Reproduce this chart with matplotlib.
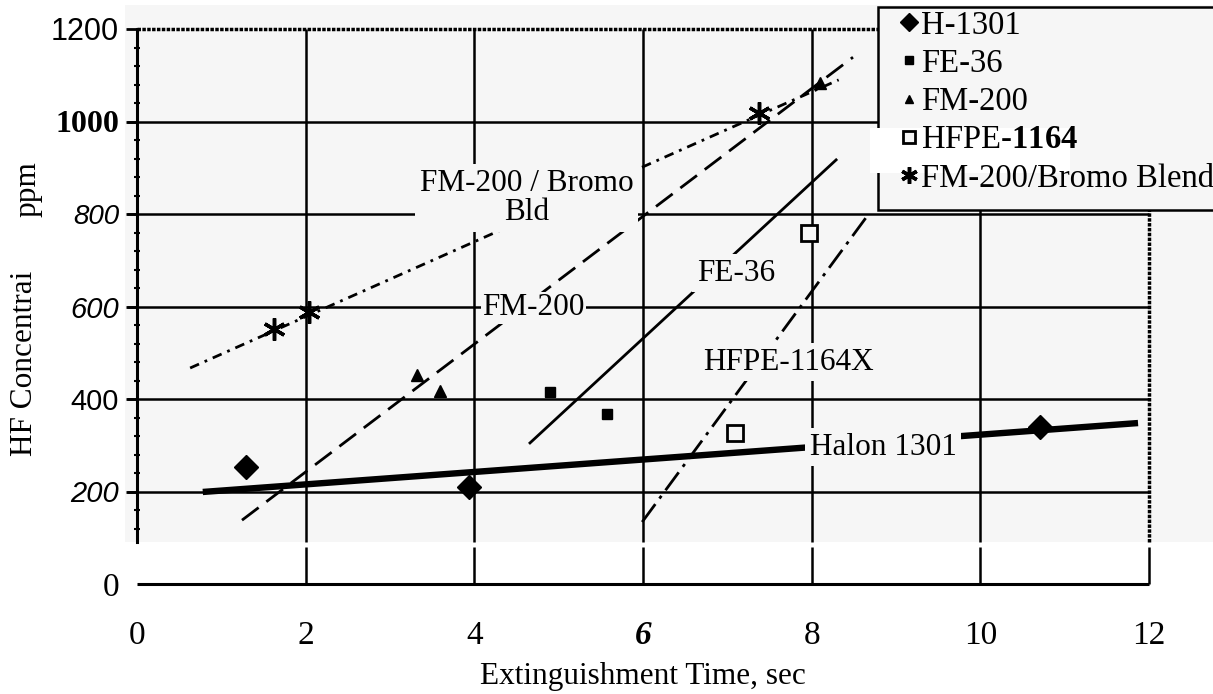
import numpy as np
import matplotlib
matplotlib.use('Agg')
import matplotlib.pyplot as plt
from matplotlib.patches import Rectangle

plt.rcParams['font.family'] = 'Liberation Serif'
plt.rcParams['mathtext.fontset'] = 'custom'
plt.rcParams['mathtext.rm'] = 'Liberation Serif'
plt.rcParams['mathtext.bf'] = 'Liberation Serif:bold'

# measured points (extinguishment time, HF ppm)
h1301_x = [1.29, 3.94, 10.71]
h1301_y = [254, 210, 340]
fe36_x = [4.90, 5.57]
fe36_y = [415, 367]
fm200_x = [3.32, 3.59, 8.10]
fm200_y = [452, 417, 1083]
hfpe_x = [7.09, 7.97]
hfpe_y = [326, 759]
bromo_x = [1.62, 2.04, 7.37]
bromo_y = [551, 589, 1018]

# trend lines drawn on the original (end points)
halon_fit_x = [0.78, 11.87]
halon_fit_y = [199, 348]
fe36_fit_x = [4.66, 8.29]
fe36_fit_y = [305, 917]
fm200_fit_x = [1.245, 8.49]
fm200_fit_y = [138, 1139]
hfpe_fit_x = [5.99, 8.64]
hfpe_fit_y = [134, 791]
bromo_fit_x = [0.63, 8.32]
bromo_fit_y = [467, 1090]

legend_labels = ['H-1301', 'FE-36', 'FM-200', r'HFPE-$\mathbf{1164}$', 'FM-200/Bromo Blend']
xticks = [0, 2, 4, 6, 8, 10, 12]
yticks = [0, 200, 400, 600, 800, 1000, 1200]

W, H = 1213, 694
bg = '#f6f6f6'
fig = plt.figure(figsize=(W / 100, H / 100), dpi=100)
ax = fig.add_axes([137 / W, 110 / H, 1012 / W, 555 / H])
ax.patch.set_visible(False)
ax.set_xlim(0, 12)
ax.set_ylim(0, 1200)

# grey plotting band of the scan
ax.add_patch(Rectangle((-0.142, 91), 12.9, 1161, facecolor=bg, edgecolor='none',
                       zorder=0, clip_on=False))

# grid
ax.hlines(yticks[1:-1], -0.12, 12, color='black', lw=1.8, zorder=1, clip_on=False)
ax.vlines(xticks[1:-1], 91, 1200, color='black', lw=1.8, zorder=1, clip_on=False)
ax.vlines(xticks[1:], 0, 80, color='black', lw=1.8, zorder=1, clip_on=False)
ax.hlines(0, 0, 12, color='black', lw=2.2, zorder=1, clip_on=False)
ax.hlines(1200, 0, 12, color='black', lw=2.5, linestyles=(0, (1, 0.4)), zorder=1, clip_on=False)
ax.vlines(12, 91, 1200, color='black', lw=2.5, linestyles=(0, (1, 0.4)), zorder=1, clip_on=False)

# trend lines
ax.plot(halon_fit_x, halon_fit_y, color='black', lw=4.6, solid_capstyle='butt', zorder=2)
ax.plot(fe36_fit_x, fe36_fit_y, color='black', lw=2.0, zorder=2)
ax.plot(fm200_fit_x, fm200_fit_y, color='black', lw=2.0, ls=(0, (7.5, 3.5)), zorder=2)
ax.plot(hfpe_fit_x, hfpe_fit_y, color='black', lw=2.0, ls=(0, (8, 2.5, 1.2, 2.5)), zorder=2)
ax.plot(bromo_fit_x, bromo_fit_y, color='black', lw=2.0, ls=(0, (3.5, 2.2, 1, 2.2)), zorder=2)

# points
p1, = ax.plot(h1301_x, h1301_y, 'D', color='black', ms=12, zorder=3, clip_on=False)
p2, = ax.plot(fe36_x, fe36_y, 's', color='black', ms=7, zorder=3, clip_on=False)
p3, = ax.plot(fm200_x, fm200_y, '^', color='black', ms=8, zorder=3, clip_on=False)
p4, = ax.plot(hfpe_x, hfpe_y, 's', mfc=bg, mec='black', mew=2, ms=11, zorder=3, clip_on=False)
p5, = ax.plot(bromo_x, bromo_y, marker=(6, 2, 0), ls='none', color='black', mew=2.5, ms=16,
              zorder=3, clip_on=False)

# curve labels
box = dict(boxstyle='square,pad=0.15', facecolor=bg, edgecolor='none')
tight = dict(boxstyle='square,pad=0.05', facecolor=bg, edgecolor='none')
fs = 22.5
ax.text(4.62, 835, 'FM-200 / Bromo\nBld', ha='center', va='center', fontsize=fs,
        linespacing=1.0, bbox=box, zorder=4)
ax.text(4.70, 597, 'FM-200', ha='center', va='center', fontsize=fs, bbox=tight, zorder=4)
ax.text(7.10, 672, 'FE-36', ha='center', va='center', fontsize=fs, bbox=box, zorder=4)
ax.text(7.72, 480, 'HFPE-1164X', ha='center', va='center', fontsize=fs, bbox=box, zorder=4)
ax.text(8.85, 296, 'Halon 1301', ha='center', va='center', fontsize=fs, bbox=box, zorder=4)

# axes and ticks
for s in ['top', 'right', 'bottom']:
    ax.spines[s].set_visible(False)
ax.spines['left'].set_bounds(91, 1200)
ax.spines['left'].set_linewidth(2.2)

ax.set_xticks(xticks)
ax.set_xticklabels([str(t) for t in xticks], fontsize=24)
ax.tick_params(axis='x', length=0, pad=26)
ax.get_xticklabels()[3].set_fontweight('bold')
ax.get_xticklabels()[3].set_fontstyle('italic')

ax.set_yticks(yticks)
ax.set_yticklabels([str(t) for t in yticks])
ax.tick_params(axis='y', which='major', length=8, width=2, pad=5)
ax.set_yticks([t for t in np.arange(120, 1200, 40) if t % 200], minor=True)
ax.tick_params(axis='y', which='minor', length=4, width=1.5, direction='inout')
ax.yaxis.get_major_ticks()[0].tick1line.set_visible(False)
ytick_fonts = [('Liberation Serif', 'normal', 'normal', 24),
               ('Liberation Sans', 'italic', 'normal', 21),
               ('Liberation Sans', 'normal', 'normal', 21),
               ('Liberation Sans', 'italic', 'normal', 21),
               ('Liberation Sans', 'italic', 'normal', 20),
               ('Liberation Serif', 'normal', 'bold', 23),
               ('Liberation Sans', 'normal', 'normal', 22)]
for lab, (fam, sty, wt, sz) in zip(ax.get_yticklabels(), ytick_fonts):
    lab.set_family(fam)
    lab.set_style(sty)
    lab.set_weight(wt)
    lab.set_fontsize(sz)

ax.set_xlabel('Extinguishment Time, sec', fontsize=22.5, labelpad=8)
fig.text(25 / W, 1 - 363 / H, 'HF Concentrai', rotation=90, ha='center', va='center', fontsize=22.5)
fig.text(28 / W, 1 - 189 / H, 'ppm', rotation=90, ha='center', va='center', fontsize=22.5)

# legend box (frame runs off the right edge like the scan)
fig.add_artist(Rectangle((878 / W, 1 - 210 / H), (W + 10 - 878) / W, 203 / H,
                         transform=fig.transFigure, facecolor=bg, edgecolor='black',
                         lw=1.8, zorder=4))
fig.add_artist(Rectangle((870 / W, 1 - 173 / H), 200 / W, 45 / H,
                         transform=fig.transFigure, facecolor='white', edgecolor='none', zorder=4.5))
leg = fig.legend([p1, p2, p3, p4, p5], legend_labels, loc='upper left',
                 bbox_to_anchor=(901 / W, 1 - 10 / H), bbox_transform=fig.transFigure,
                 frameon=False, fontsize=23.5, handlelength=0.5, handletextpad=0.1,
                 borderpad=0, labelspacing=0.24, borderaxespad=0, markerscale=0.75)

fig.savefig('out.png', dpi=100, facecolor='white')
